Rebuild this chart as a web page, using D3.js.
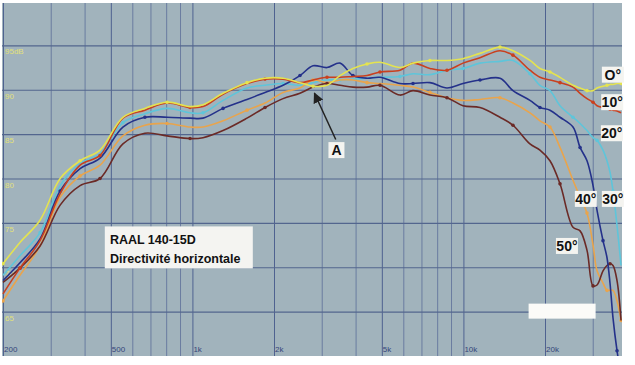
<!DOCTYPE html>
<html>
<head>
<meta charset="utf-8">
<script src="https://cdn.jsdelivr.net/npm/d3@7"></script>
<style>
  body { margin: 0; background: #fff; }
  svg { display: block; }
</style>
</head>
<body>
<svg id="chart" width="635" height="365"></svg>
<script>
// frequency points (Hz) shared by all curves
var freqs = [200, 231, 274, 325, 385, 456, 554, 668, 806, 980, 1094, 1297, 1590, 1853, 2160, 2494, 2786, 3138, 3504, 3913, 4408, 4922, 5834, 6516, 7526, 8696, 9964, 11512, 13644, 15236, 17600, 19160, 20860, 22720, 25370, 26940, 28580, 30080, 31120, 32740, 33860, 34750, 35640, 36880, 38160];

// SPL in dB for each angle
var db0  = [70.4, 72.8, 75.3, 80.0, 82.0, 83.2, 86.9, 87.9, 88.6, 88.1, 88.3, 89.6, 90.8, 91.3, 91.3, 90.8, 90.4, 90.5, 91.6, 92.4, 92.9, 93.1, 92.5, 93.0, 93.3, 93.3, 93.5, 94.1, 94.8, 94.4, 93.3, 92.4, 92.0, 91.4, 90.5, 90.2, 89.9, 89.9, 90.2, 90.4, 90.5, 90.6, 90.6, 90.7, 90.7];
var db10 = [67.0, 69.9, 73.0, 78.3, 81.5, 82.6, 86.8, 87.7, 88.5, 88.0, 88.1, 89.5, 90.7, 91.2, 91.2, 90.8, 91.1, 91.4, 91.4, 91.5, 91.6, 92.0, 92.2, 93.0, 92.4, 92.2, 93.0, 93.6, 94.4, 93.9, 92.2, 91.4, 91.1, 90.8, 90.3, 89.6, 89.0, 88.6, 88.2, 88.0, 87.9, 87.8, 87.7, 87.6, 87.4];
var db20 = [69.1, 71.3, 73.9, 79.2, 81.7, 82.8, 86.3, 87.3, 87.9, 87.4, 87.4, 88.8, 90.2, 90.5, 90.7, 90.5, 90.8, 91.1, 91.1, 91.2, 91.3, 91.4, 91.5, 91.8, 91.7, 92.2, 92.4, 93.0, 93.2, 93.3, 91.8, 90.5, 89.9, 88.2, 86.9, 86.2, 85.4, 84.6, 84.3, 83.2, 82.0, 80.7, 78.6, 74.7, 70.2];
var db30 = [68.5, 70.5, 73.2, 78.6, 81.1, 82.3, 85.8, 86.9, 86.9, 86.8, 86.8, 87.9, 88.9, 89.7, 90.5, 91.6, 92.7, 92.5, 93.0, 91.6, 91.3, 91.4, 90.7, 90.7, 90.8, 90.2, 90.7, 91.1, 91.3, 89.9, 88.8, 88.0, 87.7, 86.9, 85.8, 83.5, 82.0, 79.2, 76.4, 73.0, 71.1, 68.2, 64.3, 60.6, 57.8];
var db40 = [66.2, 69.1, 72.4, 77.9, 80.3, 81.5, 84.8, 86.0, 86.2, 85.8, 85.8, 86.5, 87.7, 88.5, 89.7, 90.2, 91.1, 90.8, 91.1, 91.1, 90.8, 90.7, 90.5, 90.3, 89.7, 89.1, 88.8, 88.9, 89.1, 88.5, 87.4, 86.5, 85.8, 83.5, 79.8, 77.9, 76.1, 72.5, 69.6, 68.2, 67.4, 67.4, 67.4, 66.2, 64.0];
var db50 = [68.3, 69.9, 72.4, 77.0, 79.2, 80.0, 83.9, 85.1, 84.8, 84.5, 84.6, 85.4, 86.8, 88.0, 89.0, 89.6, 90.3, 90.7, 90.5, 90.3, 90.3, 90.5, 89.4, 89.9, 89.4, 89.1, 88.2, 88.0, 86.9, 86.0, 83.9, 83.2, 82.0, 79.4, 74.5, 74.1, 71.9, 67.9, 68.0, 69.6, 70.2, 70.4, 70.2, 68.5, 64.0];

var angles = ["O°", "10°", "20°", "30°", "40°", "50°"];
var colors = ["#e4e350", "#c9401f", "#5ec5da", "#24318a", "#e9a44c", "#6b2a26"];
// where each angle label sits (freq, dB)
var labelFreq = [35600, 35400, 35300, 35600, 28300, 24100];
var labelDb   = [91.7, 88.6, 85.1, 77.7, 77.7, 72.4];

// grid and tick values
var gridFreqs = [200, 300, 400, 500, 600, 700, 800, 900, 1000, 2000, 3000, 4000, 5000, 6000, 7000, 8000, 9000, 10000, 20000, 30000, 40000];
var xTickValues = [200, 500, 1000, 2000, 5000, 10000, 20000];
var xTickLabels = ["200", "500", "1k", "2k", "5k", "10k", "20k"];
var yTickValues = [95, 90, 85, 80, 75, 70, 65];
var yTickLabels = ["95dB", "90", "85", "80", "75", "70", "65"];

var series = [db0, db10, db20, db30, db40, db50];

var svg = d3.select("#chart");
var pl = 2, pr = 622, pt = 3, pb = 356;

var x = d3.scaleLog().domain([200, 40000]).range([3, 3 + Math.log10(200) * 271]);
var y = d3.scaleLinear().domain([60, 100]).range([356, 1]);

var defs = svg.append("defs");
defs.append("clipPath").attr("id", "clip")
  .append("rect").attr("x", pl).attr("y", pt).attr("width", pr - pl).attr("height", pb - pt);

svg.append("rect")
  .attr("x", pl).attr("y", pt)
  .attr("width", pr - pl).attr("height", pb - pt)
  .attr("fill", "#a1b3bc");

var plot = svg.append("g").attr("clip-path", "url(#clip)");

// vertical grid
plot.append("g")
  .attr("transform", "translate(0," + pb + ")")
  .call(d3.axisBottom(x).tickValues(gridFreqs).tickSize(-(pb - pt)).tickFormat(""))
  .call(g => g.select(".domain").remove())
  .call(g => g.selectAll("line")
    .attr("stroke", d => xTickValues.indexOf(d) >= 0 ? "#4f6290" : "#6a7ca0")
    .attr("stroke-width", 1));

// horizontal grid
plot.append("g")
  .attr("transform", "translate(" + pl + ",0)")
  .call(d3.axisRight(y).tickValues(yTickValues).tickSize(pr - pl).tickFormat(""))
  .call(g => g.select(".domain").remove())
  .call(g => g.selectAll("line").attr("stroke", "#53668e").attr("stroke-width", 1.2));

// y labels
plot.selectAll(".ylab").data(yTickValues).enter().append("text")
  .attr("x", 5)
  .attr("y", d => y(d) + 9)
  .attr("font-family", "Liberation Sans, Arial, sans-serif")
  .attr("font-size", 8)
  .attr("fill", "#e2e07a")
  .text((d, i) => yTickLabels[i]);

// x labels
plot.selectAll(".xlab").data(xTickValues).enter().append("text")
  .attr("x", d => x(d) + 1)
  .attr("y", 352)
  .attr("font-family", "Liberation Sans, Arial, sans-serif")
  .attr("font-size", 8)
  .attr("fill", "#34457a")
  .text((d, i) => xTickLabels[i]);

// curves
var line = d3.line()
  .x((d, i) => x(freqs[i]))
  .y(d => y(d))
  .curve(d3.curveCatmullRom.alpha(0.5));

var drawOrder = [2, 4, 5, 3, 1, 0];
drawOrder.forEach(function(k) {
  plot.append("path")
    .datum(series[k])
    .attr("d", line)
    .attr("fill", "none")
    .attr("stroke", colors[k])
    .attr("stroke-width", 1.6);
  var pts = freqs.map((f, i) => [f, series[k][i]]).filter((p, i) => i % 4 == (k % 4));
  plot.selectAll(".m" + k)
    .data(pts)
    .enter().append("circle")
    .attr("cx", p => x(p[0]))
    .attr("cy", p => y(p[1]))
    .attr("r", 1.8)
    .attr("fill", colors[k]);
});

// white patch near bottom right
svg.append("rect")
  .attr("x", x(17400)).attr("y", y(65.9))
  .attr("width", 67).attr("height", 15)
  .attr("fill", "#fbfbf8");

// title box
var tb = svg.append("g");
tb.append("rect")
  .attr("x", x(475)).attr("y", y(74.6))
  .attr("width", 148).attr("height", 42)
  .attr("fill", "#f4f4f1");
tb.append("text")
  .attr("x", x(496)).attr("y", y(72.6))
  .attr("font-family", "Liberation Sans, Arial, sans-serif")
  .attr("font-weight", "bold").attr("font-size", 12.5)
  .attr("fill", "#111")
  .text("RAAL 140-15D");
tb.append("text")
  .attr("x", x(496)).attr("y", y(70.5))
  .attr("font-family", "Liberation Sans, Arial, sans-serif")
  .attr("font-weight", "bold").attr("font-size", 12.5)
  .attr("fill", "#111")
  .text("Directivité horizontale");

// angle labels
angles.forEach(function(a, i) {
  var cx = x(labelFreq[i]), cy = y(labelDb[i]);
  svg.append("rect")
    .attr("x", cx - 11).attr("y", cy - 8)
    .attr("width", 22).attr("height", 16)
    .attr("fill", "#f4f4f0");
  svg.append("text")
    .attr("x", cx).attr("y", cy + 5)
    .attr("text-anchor", "middle")
    .attr("font-family", "Liberation Sans, Arial, sans-serif")
    .attr("font-weight", "bold").attr("font-size", 14)
    .attr("fill", "#111")
    .text(a);
});

// arrow "A"
defs.append("marker")
  .attr("id", "arr").attr("viewBox", "0 0 10 10")
  .attr("refX", 9).attr("refY", 5)
  .attr("markerWidth", 7).attr("markerHeight", 7)
  .attr("orient", "auto")
  .append("path").attr("d", "M0,0 L10,5 L0,10 z").attr("fill", "#222");
svg.append("line")
  .attr("x1", x(3380)).attr("y1", y(84.4))
  .attr("x2", x(2820)).attr("y2", y(89.6))
  .attr("stroke", "#222").attr("stroke-width", 1.5)
  .attr("marker-end", "url(#arr)");
svg.append("rect")
  .attr("x", x(3400) - 8).attr("y", y(83.2) - 8)
  .attr("width", 16).attr("height", 16)
  .attr("fill", "#f4f4f0");
svg.append("text")
  .attr("x", x(3400)).attr("y", y(83.2) + 5)
  .attr("text-anchor", "middle")
  .attr("font-family", "Liberation Sans, Arial, sans-serif")
  .attr("font-weight", "bold").attr("font-size", 14)
  .attr("fill", "#111")
  .text("A");
</script>
</body>
</html>
